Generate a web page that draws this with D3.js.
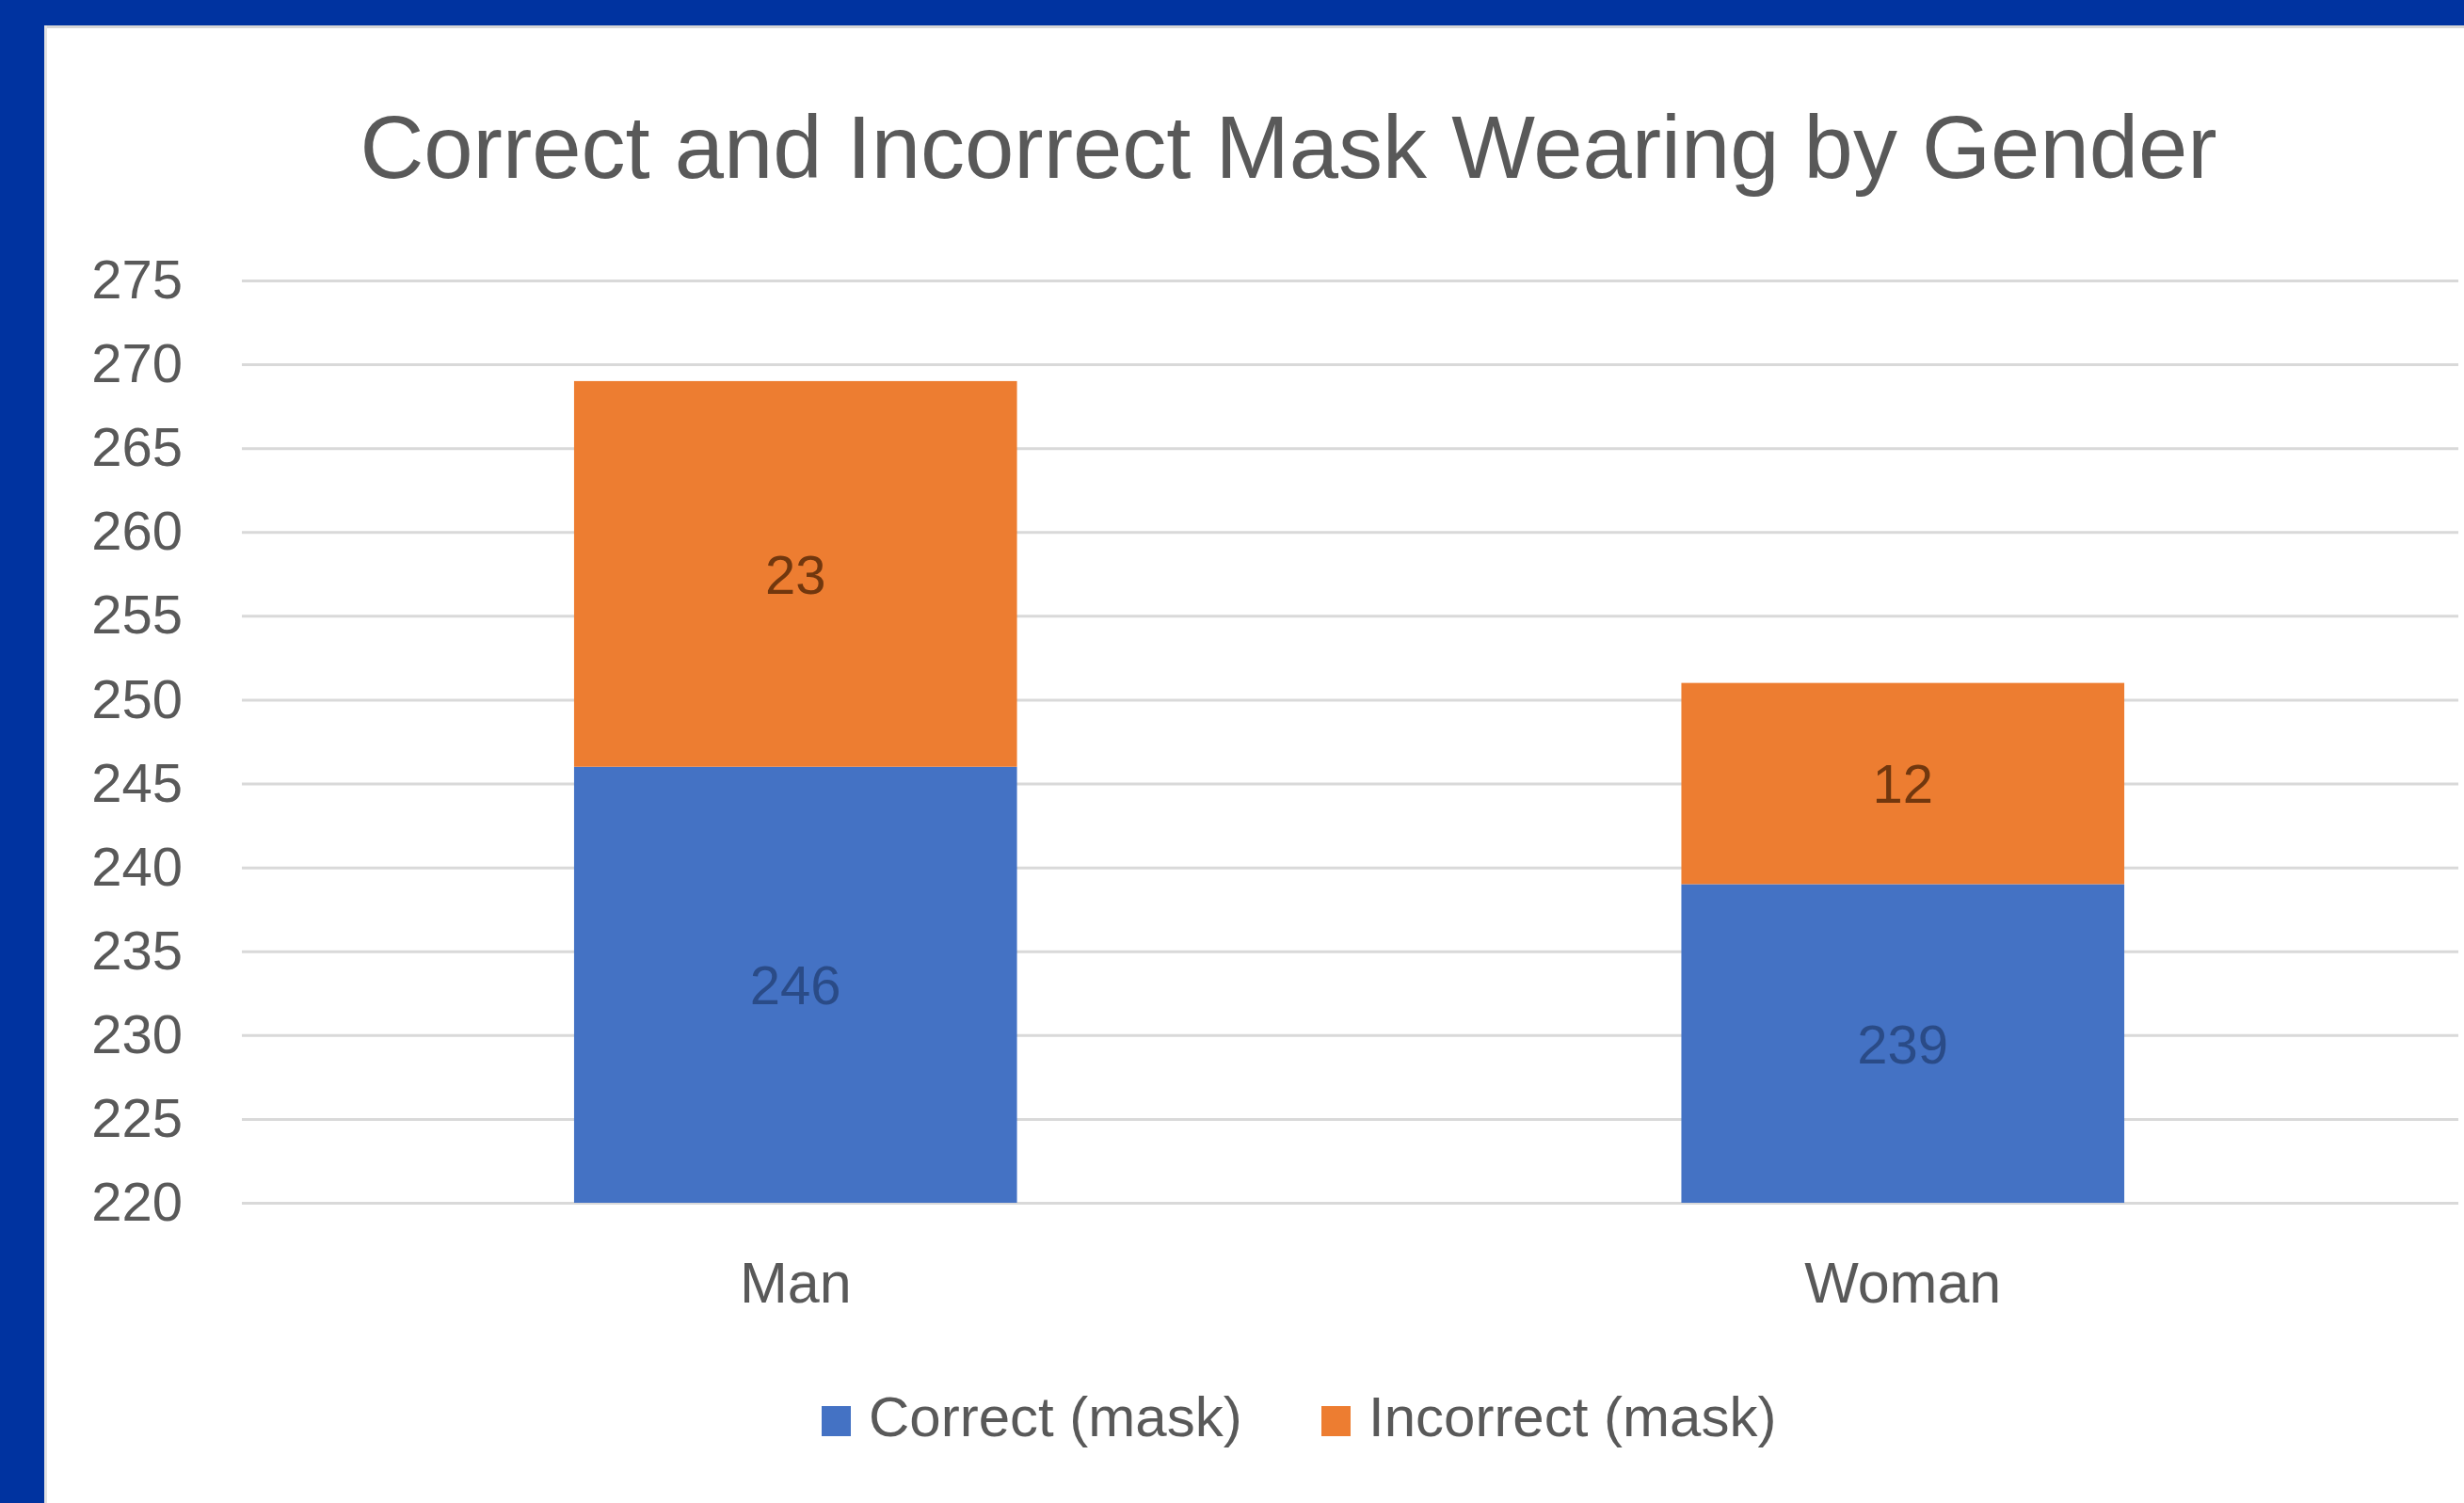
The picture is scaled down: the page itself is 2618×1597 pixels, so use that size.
<!DOCTYPE html>
<html>
<head>
<meta charset="utf-8">
<script src="https://cdn.jsdelivr.net/npm/d3@7"></script>
<style>
    html, body { margin: 0; padding: 0; background: #0033a0; }
    svg { display: block; }
</style>
</head>
<body>
<svg id="chart"></svg>
<script>
const categories = ['Man', 'Woman'];
const correctMask = [246, 239];
const incorrectMask = [23, 12];
const seriesNames = ['Correct (mask)', 'Incorrect (mask)'];
const seriesColors = ['#4472c4', '#ed7d31'];
const yTickValues = [220, 225, 230, 235, 240, 245, 250, 255, 260, 265, 270, 275];
const chartTitle = 'Correct and Incorrect Mask Wearing by Gender';

const width = 2618, height = 1597;
const font = '"Liberation Sans", Arial, sans-serif';
const plot = {left: 257, right: 2612, top: 298, bottom: 1278};

const svg = d3.select('#chart').attr('width', width).attr('height', height);

// white chart panel inside the blue frame
svg.append('rect').attr('x', 47).attr('y', 27).attr('width', width - 47).attr('height', height - 27)
    .attr('fill', '#ffffff');
svg.append('rect').attr('x', 47).attr('y', 27).attr('width', width - 47).attr('height', 3)
    .attr('fill', '#d6d6d6');
svg.append('rect').attr('x', 47).attr('y', 27).attr('width', 3).attr('height', height - 27)
    .attr('fill', '#e2e2e2');

const x = d3.scaleBand().domain(categories)
    .range([plot.left, plot.right - 2])
    .paddingInner(0.6).paddingOuter(0.3);
const y = d3.scaleLinear().domain([d3.min(yTickValues), d3.max(yTickValues)])
    .range([plot.bottom, plot.top]);

// title
svg.append('text')
    .attr('x', 1369).attr('y', 189)
    .attr('text-anchor', 'middle')
    .style('font-family', font).style('font-size', '94px').style('fill', '#595959')
    .text(chartTitle);

// gridlines + y labels
const yAxis = svg.append('g')
    .attr('transform', `translate(${plot.left},0)`)
    .call(d3.axisLeft(y).tickValues(yTickValues).tickSize(-(plot.right - plot.left)).tickPadding(63));
yAxis.select('.domain').remove();
yAxis.selectAll('.tick line').attr('stroke', '#d9d9d9').attr('stroke-width', 3);
yAxis.selectAll('.tick text')
    .style('font-family', font).style('font-size', '58px').style('fill', '#595959');

// stacked data
const rows = categories.map((c, i) => ({cat: c, correct: correctMask[i], incorrect: incorrectMask[i]}));
const stack = d3.stack().keys(['correct', 'incorrect']);
const layers = stack(rows);
const yMin = y.domain()[0];

const groups = svg.append('g').selectAll('g')
    .data(layers)
    .enter().append('g')
    .attr('fill', (d, i) => seriesColors[i]);

groups.selectAll('rect')
    .data(d => d)
    .enter().append('rect')
    .attr('x', d => x(d.data.cat))
    .attr('width', x.bandwidth())
    .attr('y', d => y(d[1]))
    .attr('height', d => y(Math.max(d[0], yMin)) - y(d[1]));

// data labels centred on the visible part of each segment
layers.forEach((layer, li) => {
    svg.append('g').selectAll('text')
        .data(layer)
        .enter().append('text')
        .attr('x', d => x(d.data.cat) + x.bandwidth() / 2)
        .attr('y', d => (y(Math.max(d[0], yMin)) + y(d[1])) / 2)
        .attr('dy', '0.36em')
        .attr('text-anchor', 'middle')
        .style('font-family', font).style('font-size', '58px')
        .style('fill', li === 0 ? '#1f3a6e' : '#5a2a08')
        .style('fill-opacity', li === 0 ? 0.7 : 0.85)
        .text(d => d[1] - d[0]);
});

// category labels
svg.append('g').selectAll('text')
    .data(categories)
    .enter().append('text')
    .attr('x', d => x(d) + x.bandwidth() / 2)
    .attr('y', 1384)
    .attr('text-anchor', 'middle')
    .style('font-family', font).style('font-size', '61px').style('fill', '#595959')
    .text(d => d);

// legend
const legendX = [873, 1404];
const legend = svg.append('g').selectAll('g')
    .data(seriesNames)
    .enter().append('g')
    .attr('transform', (d, i) => `translate(${legendX[i]},1494)`);
legend.append('rect')
    .attr('width', 31).attr('height', 32)
    .attr('fill', (d, i) => seriesColors[i]);
legend.append('text')
    .attr('x', 50).attr('y', 32)
    .style('font-family', font).style('font-size', '60px').style('fill', '#595959')
    .text(d => d);
</script>
</body>
</html>
